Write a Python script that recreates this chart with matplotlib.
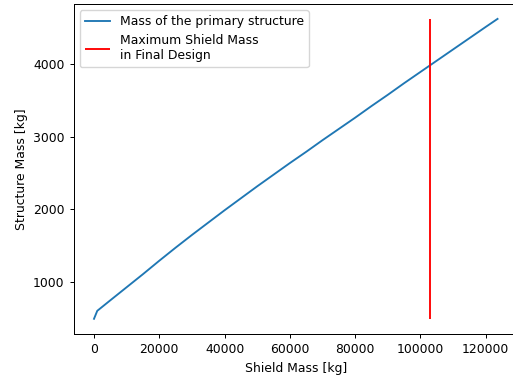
import numpy as np
import matplotlib.pyplot as plt

# shield mass [kg] vs. mass of primary structure [kg]
shield_mass = [0, 1000, 5000, 10000, 15000, 20000, 25000, 30000, 35000, 40000,
               45000, 50000, 55000, 60000, 65000, 70000, 75000, 80000, 85000,
               90000, 95000, 100000, 105000, 110000, 115000, 120000, 123600]
structure_mass = [490, 600, 745, 925, 1105, 1290, 1470, 1645, 1815, 1985,
                  2150, 2315, 2475, 2635, 2790, 2950, 3105, 3260, 3420,
                  3575, 3735, 3890, 4045, 4200, 4355, 4510, 4620]
max_shield_final = 103000

# original looks like a slightly shrunk default figure
plt.rcParams['font.size'] = 8.9
plt.rcParams['lines.linewidth'] = 1.35
plt.rcParams['axes.linewidth'] = 0.72
plt.rcParams['xtick.major.size'] = 3.1
plt.rcParams['ytick.major.size'] = 3.1
plt.rcParams['xtick.major.width'] = 0.72
plt.rcParams['ytick.major.width'] = 0.72

fig = plt.figure(figsize=(5.13, 3.78), dpi=100)
# axes run past the right edge, as in the cropped original
ax = fig.add_axes([0.1439, 0.1169, 0.8653, 0.8728])

ax.plot(shield_mass, structure_mass, label='Mass of the primary structure')
ax.vlines(max_shield_final, min(structure_mass), max(structure_mass),
          colors='red', label='Maximum Shield Mass\nin Final Design')

ax.set_xlabel('Shield Mass [kg]')
ax.set_ylabel('Structure Mass [kg]')
ax.legend(loc='upper left')

fig.savefig('out.png', dpi=100)
